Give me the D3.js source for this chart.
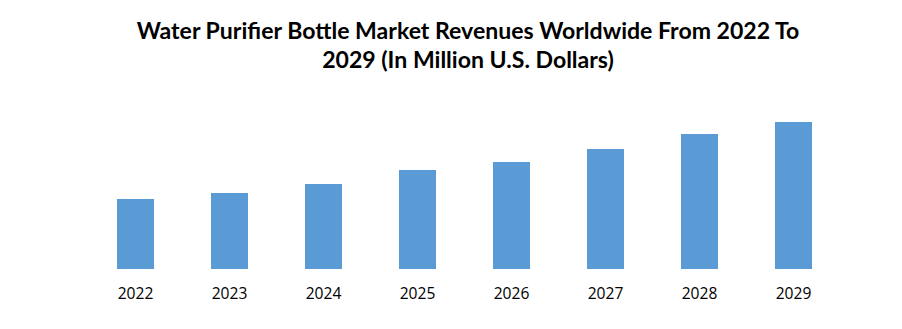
<!DOCTYPE html>
<html><head><meta charset="utf-8">
<script src="https://cdn.jsdelivr.net/npm/d3@7"></script>
<style>body{margin:0;background:#fff;} svg{display:block;}</style>
</head><body>
<svg id="c" width="902" height="329"></svg>
<script>
const years = ["2022","2023","2024","2025","2026","2027","2028","2029"];
const revenues = [350, 380, 425, 495, 535, 600, 675, 735];
const titleLines = ["Water Purifier Bottle Market Revenues Worldwide From 2022 To", "2029 (In Million U.S. Dollars)"];

const svg = d3.select("#c");
const x = d3.scaleBand().domain(years).range([88.5, 840.5]).paddingInner(0.6064).paddingOuter(0.3032);
const y = d3.scaleLinear().domain([0, 1000]).range([269, 69]);

svg.selectAll("rect.bar").data(years).join("rect")
  .attr("class","bar")
  .attr("x", d => x(d))
  .attr("width", x.bandwidth())
  .attr("y", (d,i) => y(revenues[i]))
  .attr("height", (d,i) => y(0) - y(revenues[i]))
  .attr("fill", "#5B9BD5");

const ax = svg.append("g").attr("transform", "translate(0,269)")
  .call(d3.axisBottom(x).tickSize(0).tickPadding(19));
ax.select(".domain").remove();
ax.selectAll("text").attr("font-family","'Open Sans', sans-serif").attr("font-size", 15.6).attr("fill","#000");

const baselines = [39, 68];
const titleTexts = titleLines.map((t,i) => svg.append("text").attr("x", 468).attr("y", baselines[i])
    .attr("text-anchor","middle").attr("font-family","Lato, sans-serif")
    .attr("font-weight","bold").attr("font-size", 20).attr("fill","#000").text(t));
const w0 = titleTexts[0].node().getComputedTextLength();
const fs = 20 * 663 / w0;
titleTexts.forEach(t => t.attr("font-size", fs));
</script>
</body></html>
